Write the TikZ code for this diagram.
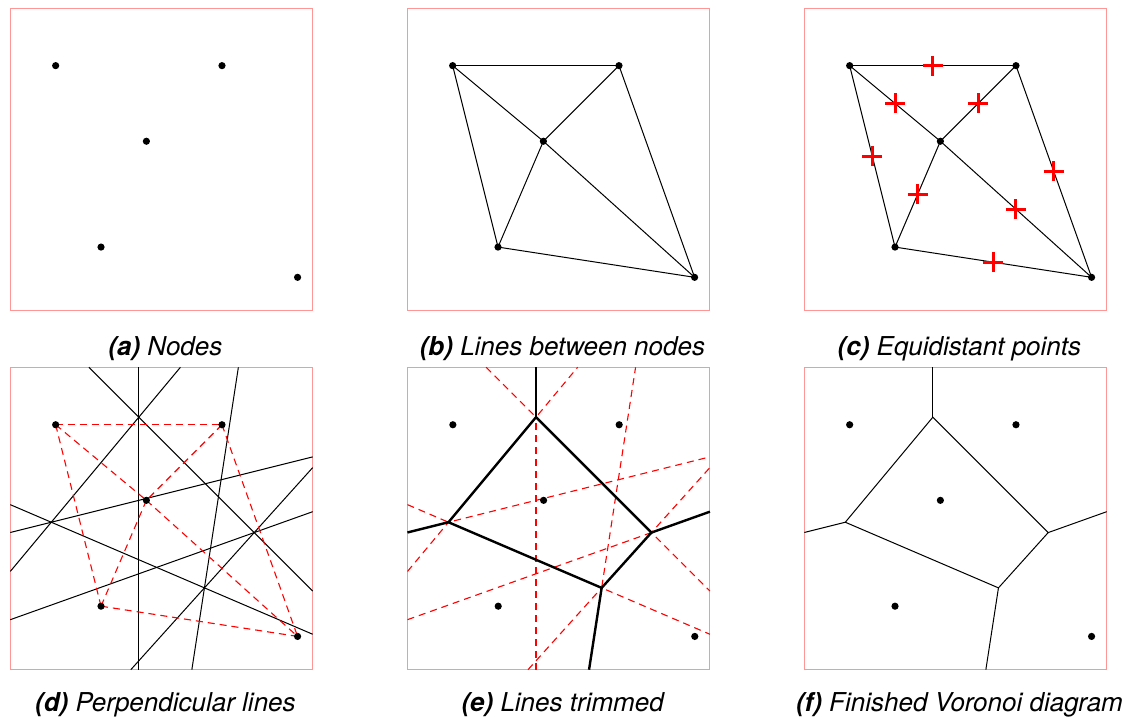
\documentclass[tikz,border=0pt]{standalone}
\usepackage{fontspec}
\newfontfamily\capfont{TeX Gyre Heros}
\usetikzlibrary{calc}
\definecolor{framecol}{RGB}{255,150,150}
\definecolor{plusred}{RGB}{255,0,0}
\tikzset{
  panelframe/.style={draw=framecol, line width=1pt},
  dotnode/.style={circle, fill=black, inner sep=0pt, minimum size=7.2pt},
  thinedge/.style={draw=black, line width=1pt},
  redline/.style={draw=plusred, line width=1.1pt, dash pattern=on 7pt off 5pt},
  thickedge/.style={draw=black, line width=2.4pt, line join=miter},
  bisec/.style={draw=black, line width=1pt},
  plusmark/.style={draw=plusred, line width=3pt},
  captext/.style={anchor=base, inner sep=0pt, font=\capfont\fontsize{26}{30}\selectfont\itshape},
  panel/.style={x=30.24pt, y=30.24pt},
}
% site coordinates of one panel
\newcommand\vorsites[1]{%
  \coordinate (#1s1) at (1.5,8.1);
  \coordinate (#1s2) at (7,8.1);
  \coordinate (#1s3) at (4.5,5.6);
  \coordinate (#1s4) at (3,2.1);
  \coordinate (#1s5) at (9.5,1.1);
}
\newcommand\vordots[1]{%
  \foreach \k in {1,...,5} {\node[dotnode] (#1d\k) at (#1s\k) {};}
}
\newcommand\voredges[2]{%
  \draw[#2] (#1s1) -- (#1s2);
  \draw[#2] (#1s1) -- (#1s3);
  \draw[#2] (#1s2) -- (#1s3);
  \draw[#2] (#1s1) -- (#1s4);
  \draw[#2] (#1s3) -- (#1s4);
  \draw[#2] (#1s3) -- (#1s5);
  \draw[#2] (#1s2) -- (#1s5);
  \draw[#2] (#1s4) -- (#1s5);
}
\newcommand\vorbisectors[1]{%
  \draw[#1] (4.25,0) -- (4.25,10);
  \draw[#1] (0,3.25) -- (5.625,10);
  \draw[#1] (2.6,10) -- (10,2.6);
  \draw[#1] (0,4.5375) -- (10,7.0375);
  \draw[#1] (0,5.45714) -- (10,1.17143);
  \draw[#1] (3.985,0) -- (10,6.68333);
  \draw[#1] (0,1.65357) -- (10,5.225);
  \draw[#1] (6.00385,0) -- (7.54231,10);
}
\newcommand\vorcells[2]{%
  \coordinate (#1v1) at (4.25,8.35);
  \coordinate (#1v2) at (1.35526,4.87632);
  \coordinate (#1v3) at (6.42033,2.70556);
  \coordinate (#1v4) at (8.06579,4.53421);
  \coordinate (#1top) at (4.25,10);
  \coordinate (#1left) at (0,4.5375);
  \coordinate (#1right) at (10,5.225);
  \coordinate (#1bot) at (6.00385,0);
  \draw[#2] (#1v2) -- (#1v1) -- (#1v4) -- (#1v3) -- cycle;
  \draw[#2] (#1v1) -- (#1top);
  \draw[#2] (#1v2) -- (#1left);
  \draw[#2] (#1v4) -- (#1right);
  \draw[#2] (#1v3) -- (#1bot);
}
\newcommand\plusmid[3]{%
  \coordinate (#1m#2#3) at ($(#1s#2)!0.5!(#1s#3)$);
  \draw[plusmark] ($(#1m#2#3)+(-10pt,0)$) -- ($(#1m#2#3)+(10pt,0)$);
  \draw[plusmark] ($(#1m#2#3)+(0,-10pt)$) -- ($(#1m#2#3)+(0,10pt)$);
}
\begin{document}
\begin{tikzpicture}
\useasboundingbox (0,0) rectangle (1141pt,719pt);
\fill[white] (0,0) rectangle (1141pt,719pt);

% (a)
\begin{scope}[panel, shift={(10.3pt,408.4pt)}]
  \draw[panelframe] (0,0) rectangle (10,10);
  \vorsites{a}
  \vordots{a}
  \node[captext] (capa) at (5.13,-1.5) {{\bfseries(a)} Nodes};
\end{scope}

% (b)
\begin{scope}[panel, shift={(407.3pt,408.4pt)}]
  \draw[panelframe] (0,0) rectangle (10,10);
  \vorsites{b}
  \voredges{b}{thinedge}
  \vordots{b}
  \node[captext] (capb) at (5.13,-1.5) {{\bfseries(b)} Lines between nodes};
\end{scope}

% (c)
\begin{scope}[panel, shift={(804.3pt,408.4pt)}]
  \draw[panelframe] (0,0) rectangle (10,10);
  \vorsites{c}
  \voredges{c}{thinedge}
  \plusmid{c}{1}{2}
  \plusmid{c}{1}{3}
  \plusmid{c}{2}{3}
  \plusmid{c}{1}{4}
  \plusmid{c}{3}{4}
  \plusmid{c}{3}{5}
  \plusmid{c}{2}{5}
  \plusmid{c}{4}{5}
  \vordots{c}
  \node[captext] (capc) at (5.13,-1.5) {{\bfseries(c)} Equidistant points};
\end{scope}

% (d)
\begin{scope}[panel, shift={(10.3pt,49.3pt)}]
  \draw[panelframe] (0,0) rectangle (10,10);
  \vorsites{d}
  \vorbisectors{bisec}
  \voredges{d}{redline}
  \vordots{d}
  \node[captext] (capd) at (5.13,-1.39) {{\bfseries(d)} Perpendicular lines};
\end{scope}

% (e)
\begin{scope}[panel, shift={(407.5pt,49.3pt)}]
  \draw[panelframe] (0,0) rectangle (10,10);
  \vorsites{e}
  \vorbisectors{redline}
  \vorcells{e}{thickedge}
  \vordots{e}
  \node[captext] (cape) at (5.13,-1.39) {{\bfseries(e)} Lines trimmed};
\end{scope}

% (f)
\begin{scope}[panel, shift={(804.3pt,49.3pt)}]
  \draw[panelframe] (0,0) rectangle (10,10);
  \vorsites{f}
  \vorcells{f}{thinedge}
  \vordots{f}
  \node[captext] (capf) at (5.13,-1.39) {{\bfseries(f)} Finished Voronoi diagram};
\end{scope}
\end{tikzpicture}
\end{document}
